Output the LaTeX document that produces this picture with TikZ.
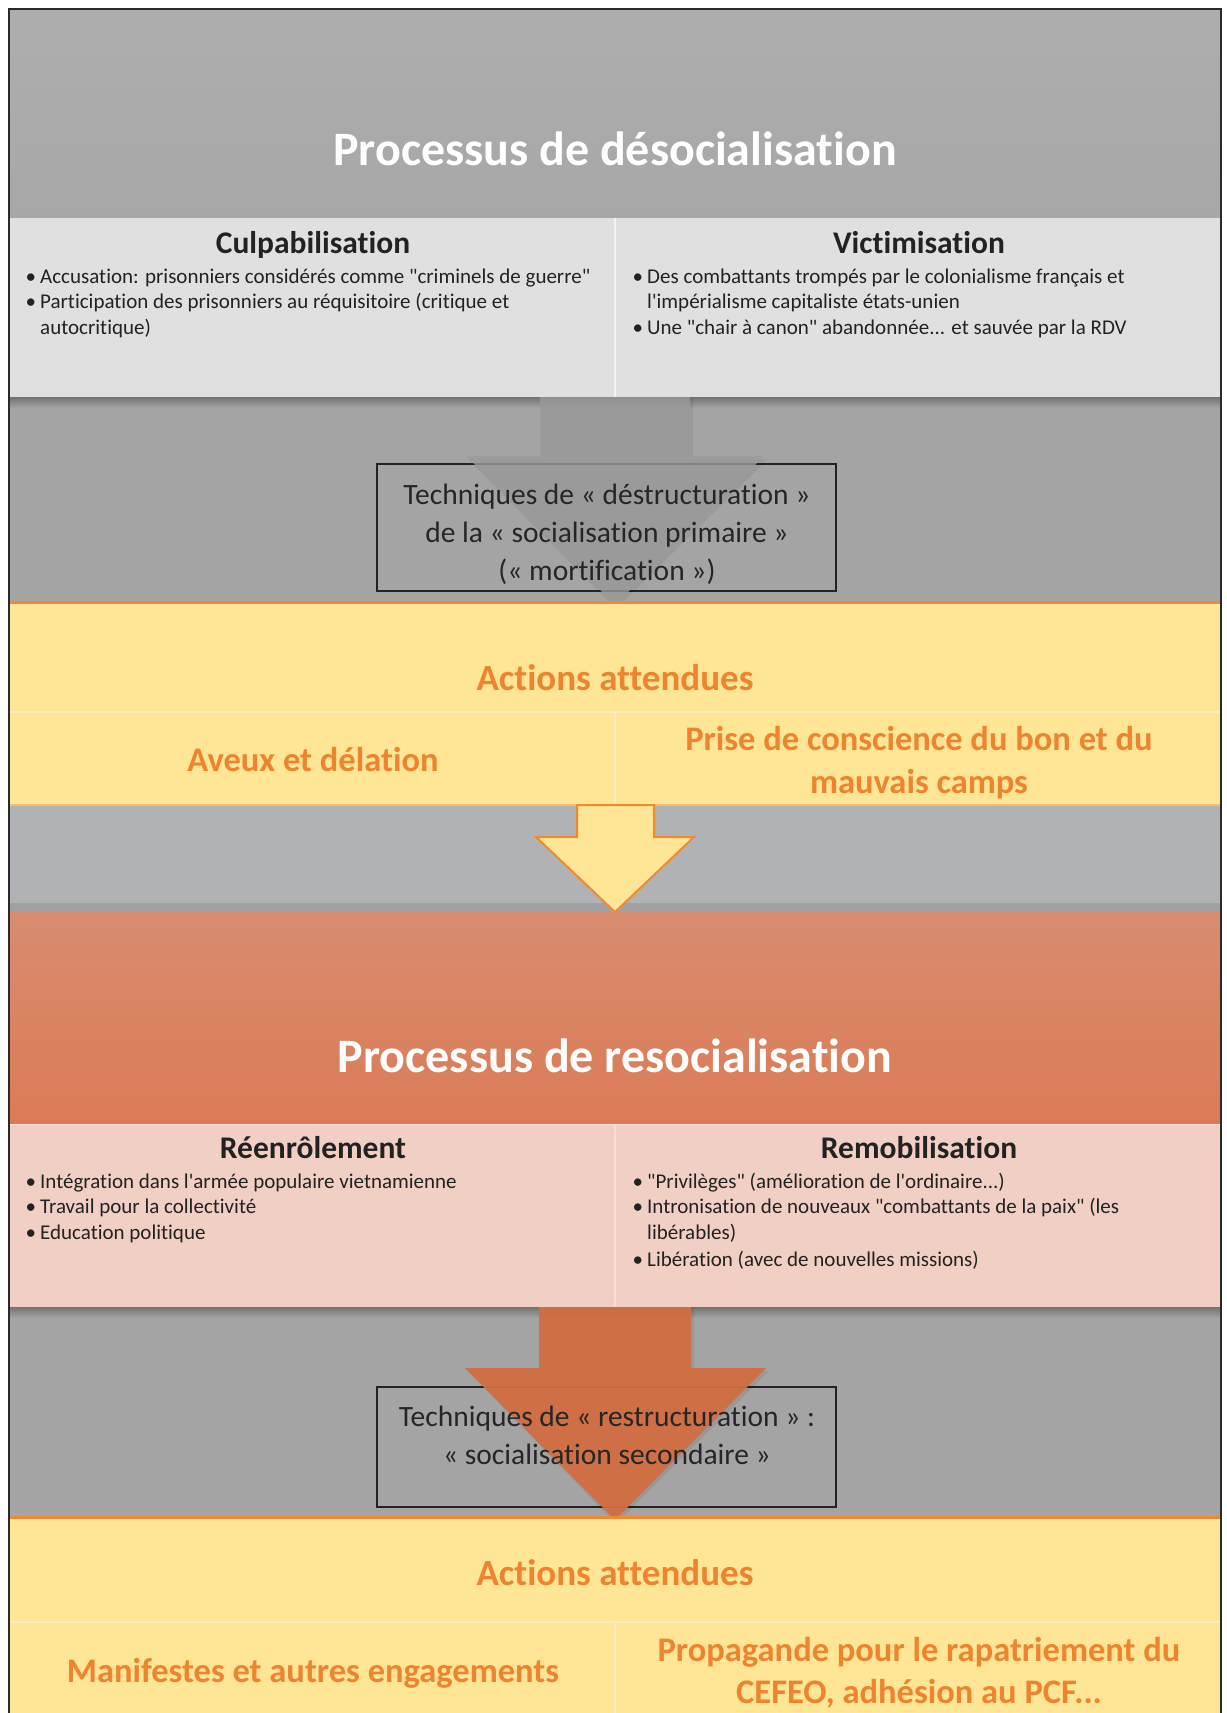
\documentclass[tikz,border=0pt]{standalone}
\usepackage{fontspec}
\setmainfont{Carlito}[Ligatures={TeXOff,NoCommon}]
\usetikzlibrary{calc}
\definecolor{gTop}{HTML}{AEAEAE}
\definecolor{gBot}{HTML}{A7A7A7}
\definecolor{lightp}{HTML}{E0E0E0}
\definecolor{grayA}{HTML}{A4A4A4}
\definecolor{grayB}{HTML}{B1B2B5}
\definecolor{grayC}{HTML}{A0A1A3}
\definecolor{yel}{HTML}{FFE596}
\definecolor{yelline}{HTML}{FBECC4}
\definecolor{orl}{HTML}{F08A30}
\definecolor{ortext}{HTML}{EE842F}
\definecolor{oTop}{HTML}{D98C6F}
\definecolor{oBot}{HTML}{DB7B56}
\definecolor{pink}{HTML}{F2CFC5}
\definecolor{pinkline}{HTML}{F7E0D8}
\definecolor{arrO}{HTML}{D26D42}
\definecolor{arrG}{HTML}{9A9A9A}
\definecolor{dark}{HTML}{222222}
\definecolor{border}{HTML}{2A2A2A}
\tikzset{
  bigtitle/.style={font=\fontsize{48}{56}\selectfont\bfseries, text=white, inner sep=0pt, anchor=base},
  colhead/.style={font=\fontsize{31.5}{36}\selectfont\bfseries, text=dark, inner sep=0pt, anchor=base},
  bul/.style={font=\fontsize{21}{25}\selectfont, text=dark, inner sep=0pt, anchor=base west},
  acthead/.style={font=\fontsize{37}{42}\selectfont\bfseries, text=ortext, inner sep=0pt, anchor=base},
  actitem/.style={font=\fontsize{34.5}{42}\selectfont\bfseries, text=ortext, inner sep=0pt, anchor=base},
  techbox/.style={draw=dark, line width=2pt, inner sep=0pt},
  techtxt/.style={font=\fontsize{29.5}{38}\selectfont, text=black!85, inner sep=0pt, anchor=base},
  faint/.style={line width=1.2pt},
}
\newcommand{\bu}{\llap{•\hspace{4pt}}}
\begin{document}
\begin{tikzpicture}[x=1pt,y=-1pt]
\useasboundingbox (0,0) rectangle (1226,1713);
\fill[white] (0,0) rectangle (1226,1713);

% ---------- top band
\shade[top color=gTop, bottom color=gBot] (9,9) rectangle (1221,218);
\node[bigtitle] (t1) at (615,165) {Processus de désocialisation};

% ---------- light panel
\fill[lightp] (9,218) rectangle (1221,397);
\draw[faint, draw=white!60!lightp] (615,218) -- (615,397);
\node[colhead] (h1) at (313,253) {Culpabilisation};
\node[colhead] (h2) at (919,253) {Victimisation};
\node[bul] (l1) at (40,283.5) {\bu Accusation: prisonniers considérés comme "criminels de guerre"};
\node[bul] (l2) at (40,308.5) {\bu Participation des prisonniers au réquisitoire (critique et};
\node[bul] (l3) at (40,334.5) {autocritique)};
\node[bul] (r1) at (647,283.5) {\bu Des combattants trompés par le colonialisme français et};
\node[bul] (r2) at (647,308.5) {l'impérialisme capitaliste états-unien};
\node[bul] (r3) at (647,334.5) {\bu Une "chair à canon" abandonnée... et sauvée par la RDV};

% ---------- gray area 1
\fill[grayA] (9,397) rectangle (1221,602);
\shade[top color=black!55, bottom color=grayA] (9,397) rectangle (1221,408);
\node[techbox, minimum width=459pt, minimum height=127pt] (b1) at (606.5,527.5) {};
\fill[black, opacity=0.06] (542,397) -- (693,397) -- (693,459) -- (768,459) -- (616,609) -- (468,459) -- (542,459) -- cycle;
\fill[arrG, opacity=0.8] (540,397) -- (690,397) -- (690,456) -- (764,456) -- (615,605) -- (466,456) -- (540,456) -- cycle;
\node[techtxt] (b1a) at (607,504) {Techniques de « déstructuration »};
\node[techtxt] (b1b) at (607,542) {de la « socialisation primaire »};
\node[techtxt] (b1c) at (607,580) {(« mortification »)};

% ---------- yellow 1
\fill[yel] (9,603) rectangle (1221,805);
\draw[orl, line width=3pt] (9,602.5) -- (1221,602.5);
\draw[faint, draw=yelline] (9,712) -- (1221,712);
\draw[faint, draw=yelline] (615,712) -- (615,805);
\node[acthead] (a1) at (615,690) {Actions attendues};
\node[actitem] (a1l) at (313,771) {Aveux et délation};
\node[actitem] (a1r) at (919,750) {Prise de conscience du bon et du};
\node[actitem] (a1r2) at (919,793) {mauvais camps};

% ---------- gray area 2
\fill[grayB] (9,805) rectangle (1221,911);
\fill[grayC] (9,903) rectangle (1221,911);
\draw[line width=1.5pt, draw=orl!45!yel] (9,805) -- (1221,805);
\filldraw[fill=yel, draw=orl, line width=2pt, line join=miter] (577,805) -- (654,805) -- (654,837) -- (694,837) -- (615,912) -- (536,837) -- (577,837) -- cycle;

% ---------- orange band
\shade[top color=oTop, bottom color=oBot] (9,911) rectangle (1221,1124);
\node[bigtitle] (t2) at (615,1072) {Processus de resocialisation};

% ---------- pink panel
\fill[pink] (9,1124) rectangle (1221,1307);
\draw[faint, draw=pinkline] (9,1124.5) -- (1221,1124.5);
\draw[faint, draw=pinkline] (615,1124) -- (615,1307);
\node[colhead] (h3) at (313,1158) {Réenrôlement};
\node[colhead] (h4) at (919,1158) {Remobilisation};
\node[bul] (p1) at (40,1188.5) {\bu Intégration dans l'armée populaire vietnamienne};
\node[bul] (p2) at (40,1213.5) {\bu Travail pour la collectivité};
\node[bul] (p3) at (40,1239.5) {\bu Education politique};
\node[bul] (q1) at (647,1188.5) {\bu "Privilèges" (amélioration de l'ordinaire...)};
\node[bul] (q2) at (647,1213.5) {\bu Intronisation de nouveaux "combattants de la paix" (les};
\node[bul] (q3) at (647,1239.5) {libérables)};
\node[bul] (q4) at (647,1266.5) {\bu Libération (avec de nouvelles missions)};

% ---------- gray area 3
\fill[grayA] (9,1307) rectangle (1221,1517);
\shade[top color=black!55, bottom color=grayA] (9,1307) rectangle (1221,1318);
\node[techbox, minimum width=459pt, minimum height=120pt] (b2) at (606.5,1447) {};
\fill[black, opacity=0.07] (541,1307) -- (694,1307) -- (694,1371) -- (769,1371) -- (616,1524) -- (468,1371) -- (541,1371) -- cycle;
\fill[arrO, opacity=0.95] (539,1307) -- (691,1307) -- (691,1368) -- (766,1368) -- (615,1520) -- (465,1368) -- (539,1368) -- cycle;
\node[techtxt] (b2a) at (607,1426) {Techniques de « restructuration » :};
\node[techtxt] (b2b) at (607,1464) {« socialisation secondaire »};

% ---------- yellow 2
\fill[yel] (9,1518) rectangle (1221,1713);
\draw[orl, line width=3pt] (9,1517.5) -- (1221,1517.5);
\draw[faint, draw=yelline] (9,1622) -- (1221,1622);
\draw[faint, draw=yelline] (615,1622) -- (615,1713);
\node[acthead] (a2) at (615,1585) {Actions attendues};
\node[actitem] (a2l) at (313,1682) {Manifestes et autres engagements};
\node[actitem] (a2r) at (919,1661) {Propagande pour le rapatriement du};
\node[actitem] (a2r2) at (919,1703) {CEFEO, adhésion au PCF...};

% ---------- outer border
\draw[border, line width=2.5pt, line join=miter] (9,1714) -- (9,9) -- (1221,9) -- (1221,1714);
\end{tikzpicture}
\end{document}
